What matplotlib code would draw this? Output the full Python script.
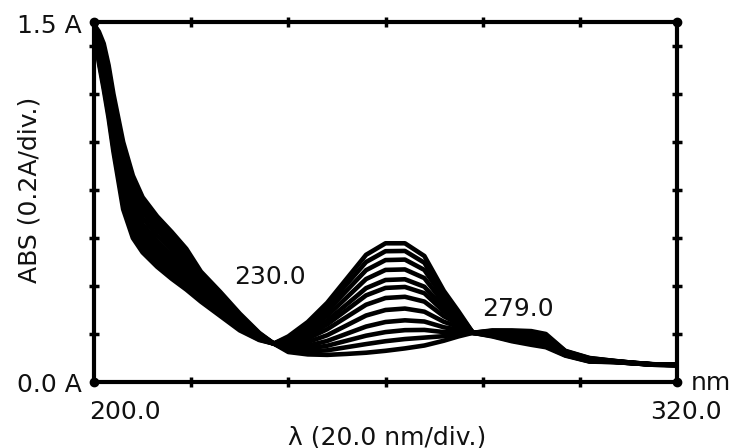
import matplotlib
matplotlib.use("Agg")
import matplotlib.pyplot as plt

# wavelengths (nm)
wavelengths = [200, 201, 202, 203, 204, 206, 208, 210, 213, 216, 219, 222, 226, 230, 234, 237,
               240, 244, 248, 252, 256, 260, 264, 268, 272, 275, 278, 282, 286, 290, 293, 297,
               302, 307, 311, 315, 320]

# absorbance of each recorded spectrum (A)
s00 = [1.49, 1.46, 1.41, 1.32, 1.20, 1.00, 0.86, 0.77, 0.69, 0.625, 0.555, 0.46, 0.375, 0.285, 0.205, 0.16, 0.125, 0.115, 0.113, 0.117, 0.122, 0.13, 0.14, 0.152, 0.172, 0.19, 0.205, 0.215, 0.215, 0.212, 0.20, 0.13, 0.10, 0.088, 0.08, 0.074, 0.072]
s01 = [1.488, 1.448, 1.393, 1.30, 1.179, 0.975, 0.837, 0.75, 0.671, 0.608, 0.54, 0.449, 0.366, 0.279, 0.202, 0.16, 0.131, 0.127, 0.132, 0.145, 0.158, 0.17, 0.179, 0.185, 0.191, 0.199, 0.205, 0.213, 0.211, 0.207, 0.195, 0.128, 0.099, 0.088, 0.08, 0.074, 0.072]
s02 = [1.487, 1.437, 1.377, 1.282, 1.158, 0.951, 0.815, 0.73, 0.654, 0.591, 0.525, 0.438, 0.358, 0.273, 0.2, 0.16, 0.136, 0.139, 0.151, 0.172, 0.193, 0.208, 0.216, 0.217, 0.208, 0.208, 0.205, 0.211, 0.207, 0.202, 0.19, 0.127, 0.097, 0.087, 0.08, 0.074, 0.072]
s03 = [1.485, 1.425, 1.359, 1.261, 1.136, 0.925, 0.79, 0.708, 0.634, 0.573, 0.509, 0.427, 0.348, 0.266, 0.197, 0.16, 0.142, 0.151, 0.171, 0.201, 0.231, 0.25, 0.257, 0.252, 0.228, 0.218, 0.205, 0.208, 0.203, 0.197, 0.185, 0.125, 0.096, 0.087, 0.079, 0.073, 0.071]
s04 = [1.482, 1.411, 1.338, 1.237, 1.109, 0.894, 0.762, 0.683, 0.61, 0.551, 0.491, 0.413, 0.337, 0.259, 0.194, 0.16, 0.15, 0.166, 0.195, 0.236, 0.277, 0.30, 0.306, 0.293, 0.251, 0.23, 0.205, 0.206, 0.198, 0.19, 0.179, 0.122, 0.094, 0.086, 0.079, 0.073, 0.071]
s05 = [1.48, 1.396, 1.317, 1.212, 1.082, 0.863, 0.732, 0.657, 0.587, 0.529, 0.472, 0.399, 0.326, 0.251, 0.19, 0.16, 0.157, 0.181, 0.22, 0.271, 0.322, 0.35, 0.355, 0.335, 0.274, 0.242, 0.205, 0.203, 0.193, 0.184, 0.173, 0.12, 0.093, 0.086, 0.079, 0.073, 0.071]
s06 = [1.478, 1.384, 1.299, 1.191, 1.06, 0.836, 0.708, 0.635, 0.567, 0.511, 0.456, 0.387, 0.317, 0.244, 0.187, 0.16, 0.163, 0.194, 0.24, 0.30, 0.361, 0.392, 0.396, 0.37, 0.294, 0.251, 0.205, 0.20, 0.189, 0.179, 0.168, 0.118, 0.091, 0.085, 0.079, 0.073, 0.071]
s07 = [1.477, 1.374, 1.285, 1.175, 1.042, 0.816, 0.689, 0.619, 0.552, 0.497, 0.443, 0.378, 0.309, 0.239, 0.185, 0.16, 0.168, 0.204, 0.256, 0.323, 0.391, 0.425, 0.428, 0.397, 0.309, 0.259, 0.205, 0.199, 0.185, 0.175, 0.164, 0.117, 0.09, 0.085, 0.079, 0.073, 0.071]
s08 = [1.475, 1.362, 1.267, 1.155, 1.02, 0.789, 0.665, 0.597, 0.532, 0.478, 0.427, 0.366, 0.30, 0.232, 0.182, 0.16, 0.174, 0.217, 0.276, 0.352, 0.429, 0.467, 0.469, 0.433, 0.328, 0.269, 0.205, 0.196, 0.181, 0.169, 0.159, 0.115, 0.089, 0.084, 0.078, 0.073, 0.071]
s09 = [1.473, 1.35, 1.25, 1.134, 0.997, 0.764, 0.641, 0.576, 0.513, 0.46, 0.412, 0.355, 0.291, 0.226, 0.18, 0.16, 0.18, 0.229, 0.296, 0.381, 0.466, 0.508, 0.51, 0.467, 0.348, 0.279, 0.205, 0.194, 0.177, 0.164, 0.154, 0.113, 0.087, 0.084, 0.078, 0.072, 0.070]
s10 = [1.471, 1.34, 1.234, 1.116, 0.978, 0.741, 0.619, 0.557, 0.496, 0.444, 0.398, 0.344, 0.282, 0.22, 0.177, 0.16, 0.185, 0.24, 0.314, 0.407, 0.50, 0.545, 0.546, 0.497, 0.365, 0.287, 0.205, 0.192, 0.173, 0.159, 0.149, 0.112, 0.086, 0.083, 0.078, 0.072, 0.070]
s11 = [1.47, 1.33, 1.22, 1.10, 0.96, 0.72, 0.60, 0.54, 0.48, 0.43, 0.385, 0.335, 0.275, 0.215, 0.175, 0.16, 0.19, 0.25, 0.33, 0.43, 0.53, 0.578, 0.578, 0.525, 0.38, 0.295, 0.205, 0.19, 0.17, 0.155, 0.145, 0.11, 0.085, 0.083, 0.078, 0.072, 0.070]
spectra = [s00, s01, s02, s03, s04, s05, s06, s07, s08, s09, s10, s11]

x_ticks = [220, 240, 260, 280, 300]
y_ticks = [0.2, 0.4, 0.6, 0.8, 1.0, 1.2, 1.4]

W, H = 732, 448
fig = plt.figure(figsize=(W / 100, H / 100), dpi=100)
fig.patch.set_facecolor("white")
ax = fig.add_axes([94 / W, 1 - 382 / H, (677 - 94) / W, (382 - 22) / H])

for s in spectra:
    ax.plot(wavelengths, s, color="black", lw=3.3, solid_joinstyle="round",
            solid_capstyle="round")

ax.set_xlim(200, 320)
ax.set_ylim(0, 1.5)
ax.set_xticks(x_ticks)
ax.set_yticks(y_ticks)
ax.tick_params(direction="inout", length=7, width=2.5, color="black",
               top=True, right=True, labelbottom=False, labelleft=False)
for sp in ax.spines.values():
    sp.set_linewidth(3.0)
    sp.set_color("black")
    sp.set_capstyle("round")
# corner dots
ax.plot([200, 200, 320, 320], [0, 1.5, 0, 1.5], "o", color="black", ms=6, clip_on=False)

def ft(x, y, s, **kw):
    fig.text(x / W, 1 - y / H, s, fontsize=18, color="#111111", **kw)

ft(82, 26, "1.5 A", ha="right", va="center")
ft(82, 385, "0.0 A", ha="right", va="center")
ft(125, 412, "200.0", ha="center", va="center")
ft(686, 412, "320.0", ha="center", va="center")
ft(711, 383, "nm", ha="center", va="center")
ft(387, 437, "λ (20.0 nm/div.)", ha="center", va="center")
ft(30, 190, "ABS (0.2A/div.)", ha="center", va="center", rotation=90)
ft(270, 277, "230.0", ha="center", va="center")
ft(518, 309, "279.0", ha="center", va="center")

fig.savefig("out.png", dpi=100, facecolor="white")
